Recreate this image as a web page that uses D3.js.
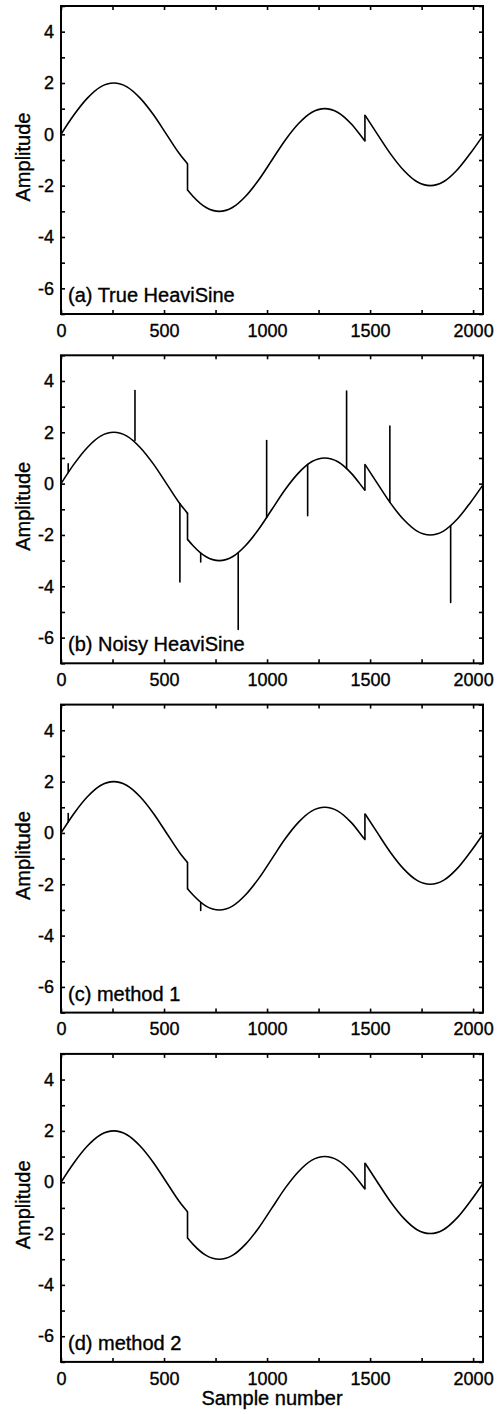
<!DOCTYPE html>
<html>
<head>
<script src="https://d3js.org/d3.v7.min.js"></script>
<style>
  body { margin: 0; background: #fff; }
  svg { display: block; }
  text { font-family: "Liberation Sans", Arial, sans-serif; fill: #000; stroke: #000; stroke-width: 0.35px; }
</style>
</head>
<body>
<script>
// HeaviSine curve (sample number, amplitude); each jump is a close pair of points
const curveX = [0, 64, 128, 192, 256, 320, 384, 448, 512, 576, 614, 615, 640, 704, 768, 832, 896, 960,
  1024, 1088, 1152, 1216, 1280, 1344, 1408, 1472, 1475, 1476, 1536, 1600, 1664, 1728, 1792, 1856,
  1920, 1984, 2048]
const curveY = [0, 0.77, 1.41, 1.85, 2.00, 1.85, 1.41, 0.77, 0, -0.77, -1.15, -2.18, -2.41, -2.85, -3.00,
  -2.85, -2.41, -1.77, -1.00, -0.23, 0.41, 0.85, 1.00, 0.85, 0.41, -0.23, -0.26, 0.74, 0, -0.77, -1.41,
  -1.85, -2.00, -1.85, -1.41, -0.77, -0.05]

// impulsive noise in panel (b)
const noisyX    = [35, 359, 577, 678, 860, 998, 1197, 1386, 1596, 1891]
const noisyBase = [0.43, 1.68, -0.78, -2.72, -2.70, -1.32, 0.75, 0.59, -0.72, -1.64]
const noisyTip  = [0.77, 3.63, -3.83, -3.05, -5.68, 1.68, -1.25, 3.61, 2.24, -4.63]

// what is left after method 1
const method1X    = [35, 678]
const method1Base = [0.43, -2.72]
const method1Tip  = [0.76, -3.02]

const panelLabels = ['(a) True HeaviSine', '(b) Noisy HeaviSine', '(c) method 1', '(d) method 2']
const xMajor = [0, 500, 1000, 1500, 2000]
const xMinor = [0, 250, 500, 750, 1000, 1250, 1500, 1750, 2000]
const yMajor = [4, 2, 0, -2, -4, -6]
const yMinor = [5, 4, 3, 2, 1, 0, -1, -2, -3, -4, -5, -6, -7]

// split the curve into smooth pieces at the jumps (points one sample apart)
const pts = curveX.map((d, i) => ({x: d, y: curveY[i]}))
const pieces = [[pts[0]]]
for (let i = 1; i < pts.length; i++) {
  if (pts[i].x - pts[i - 1].x <= 1) pieces.push([])
  pieces[pieces.length - 1].push(pts[i])
}
const jumps = []
for (let i = 1; i < pieces.length; i++) {
  const a = pieces[i - 1][pieces[i - 1].length - 1], b = pieces[i][0]
  jumps.push({x: a.x, y0: a.y, y1: b.y})
}

const spikes = [
  [],
  noisyX.map((d, i) => ({x: d, y0: noisyBase[i], y1: noisyTip[i]})),
  method1X.map((d, i) => ({x: d, y0: method1Base[i], y1: method1Tip[i]})),
  []
]

const W = 502, H = 1414
const left = 61, right = 483, plotH = 308, firstTop = 6, step = 349.3

const svg = d3.select('body').append('svg')
  .attr('width', W)
  .attr('height', H)

const x = d3.scaleLinear().domain([0, 2048]).range([left, right])

panelLabels.forEach((label, i) => {
  const top = firstTop + i * step
  const bottom = top + plotH
  const y = d3.scaleLinear().domain([-7, 5]).range([bottom, top])
  const g = svg.append('g').attr('class', 'panel')

  const line = d3.line()
    .x(d => x(d.x))
    .y(d => y(d.y))
    .curve(d3.curveMonotoneX)

  g.selectAll('path.piece')
    .data(pieces)
    .enter().append('path')
    .attr('class', 'piece')
    .attr('d', line)
    .attr('fill', 'none')
    .attr('stroke', '#000')
    .attr('stroke-width', 1.6)
    .attr('stroke-linejoin', 'round')

  g.selectAll('line.vert')
    .data(jumps.concat(spikes[i]))
    .enter().append('line')
    .attr('class', 'vert')
    .attr('x1', d => x(d.x))
    .attr('x2', d => x(d.x))
    .attr('y1', d => y(d.y0))
    .attr('y2', d => y(d.y1))
    .attr('stroke', '#000')
    .attr('stroke-width', 1.6)
    .attr('stroke-linecap', 'round')

  // axes, ticks pointing inwards on all four sides
  const fmtX = d => xMajor.includes(d) ? d : ''
  const fmtY = d => yMajor.includes(d) ? d : ''

  const bottomAx = g.append('g')
    .attr('transform', 'translate(0,' + bottom + ')')
    .call(d3.axisBottom(x).tickValues(xMinor).tickSize(-4).tickPadding(10).tickFormat(fmtX))
  g.append('g')
    .attr('transform', 'translate(0,' + top + ')')
    .call(d3.axisTop(x).tickValues(xMinor).tickSize(-4).tickFormat(''))
  const leftAx = g.append('g')
    .attr('transform', 'translate(' + left + ',0)')
    .call(d3.axisLeft(y).tickValues(yMinor).tickSize(-4).tickPadding(7).tickFormat(fmtY))
  g.append('g')
    .attr('transform', 'translate(' + right + ',0)')
    .call(d3.axisRight(y).tickValues(yMinor).tickSize(-4).tickFormat(''))

  g.selectAll('.domain').remove()
  g.selectAll('.tick line').attr('stroke', '#000').attr('stroke-width', 1.6)
  bottomAx.selectAll('text').style('font-size', '18px').attr('font-family', null)
  leftAx.selectAll('text').style('font-size', '18px').attr('font-family', null)
  g.selectAll('.tick text').attr('fill', null)

  g.append('rect')
    .attr('x', left)
    .attr('y', top)
    .attr('width', right - left)
    .attr('height', plotH)
    .attr('fill', 'none')
    .attr('stroke', '#000')
    .attr('stroke-width', 2)

  g.append('text')
    .attr('x', left + 7)
    .attr('y', bottom - 12)
    .style('font-size', '20px')
    .text(label)

  g.append('text')
    .attr('transform', 'translate(30,' + (top + plotH / 2 - 3) + ') rotate(-90)')
    .attr('text-anchor', 'middle')
    .style('font-size', '20px')
    .text('Amplitude')
})

svg.append('text')
  .attr('x', (left + right) / 2)
  .attr('y', firstTop + 3 * step + plotH + 43)
  .attr('text-anchor', 'middle')
  .style('font-size', '20px')
  .text('Sample number')
</script>
</body>
</html>
